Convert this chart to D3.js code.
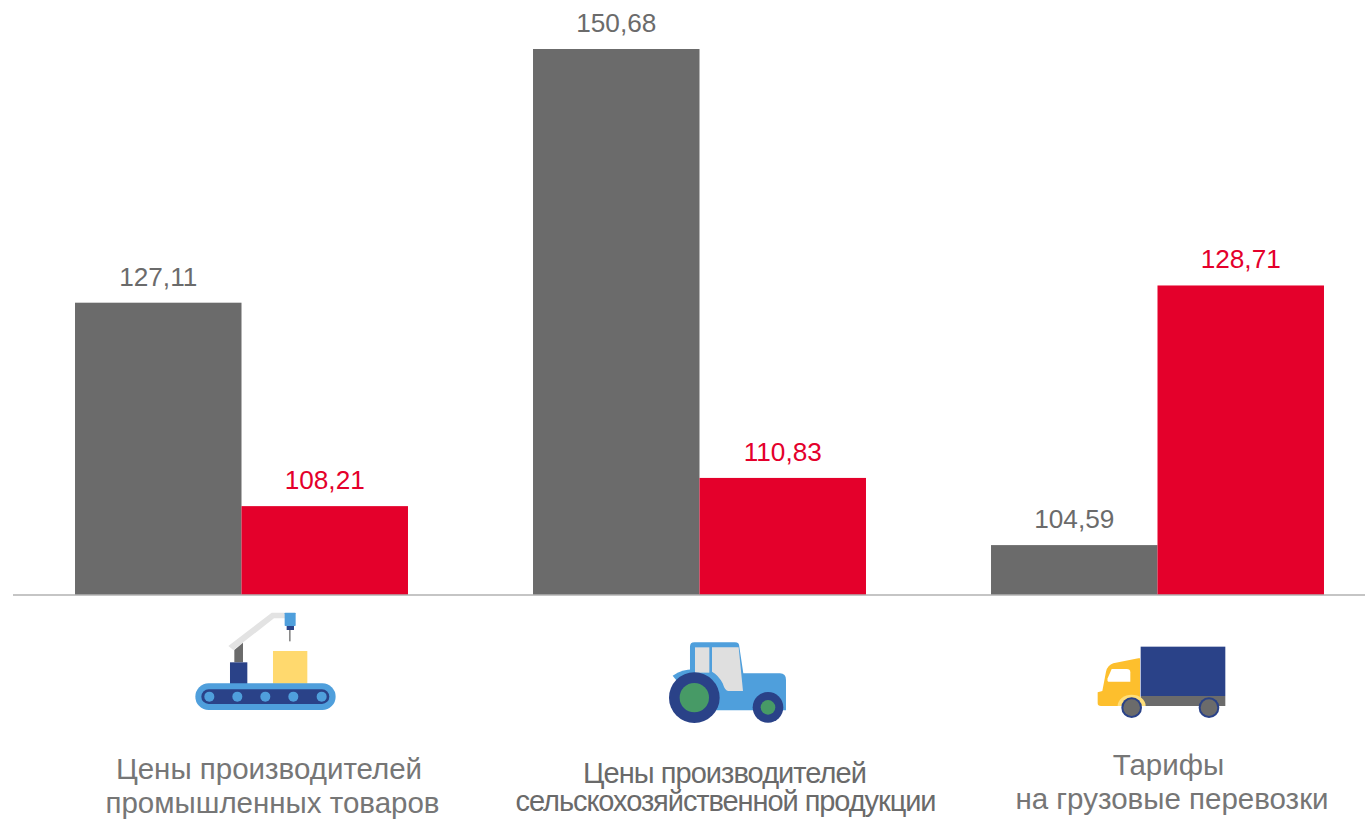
<!DOCTYPE html>
<html>
<head>
<meta charset="utf-8">
<script src="https://cdn.jsdelivr.net/npm/d3@7"></script>
<style>
  html, body { margin: 0; padding: 0; background: #fff; }
  text { font-family: "Liberation Sans", Arial, sans-serif; }
</style>
</head>
<body>
<div id="container"></div>
<script>
const categories = ['industry', 'agriculture', 'freight']
const seriesNames = ['first', 'second']
const firstValues = [127.11, 150.68, 104.59]
const secondValues = [108.21, 110.83, 128.71]
const seriesValues = [firstValues, secondValues]
const categoryLabels = [
  ['Цены производителей', 'промышленных товаров'],
  ['Цены производителей', 'сельскохозяйственной продукции'],
  ['Тарифы', 'на грузовые перевозки']
]

const width = 1365,
  height = 819,
  baseline = 594.5,
  grey = '#6b6b6b',
  red = '#e4002b',
  navy = '#2a4288',
  blue = '#4f9fdc'
const colors = [grey, red]

// label placement per category, offsets from band centre
const labelLayout = [
  { dx: [27.5, 31], y: [779, 813], size: 29.5, spacing: [0, 0], fill: '#767676' },
  { dx: [25, 26], y: [783, 811], size: 29, spacing: [-0.95, -1.07], fill: '#6a6a6a' },
  { dx: [11, 14.5], y: [775, 809], size: 29.5, spacing: [0, 0], fill: '#767676' }
]

const svg = d3.select('#container')
  .append('svg')
  .attr('width', width)
  .attr('height', height)
  .style('display', 'block')

const xScale = d3.scaleBand()
  .domain(categories)
  .range([12.5, 1386.5])
  .paddingInner(0.273)
  .paddingOuter(0.1365)
const xInner = d3.scaleBand()
  .domain(seriesNames)
  .range([0, xScale.bandwidth()])
const yScale = d3.scaleLinear()
  .domain([100, 150.68])
  .range([baseline, 49])

const fmt = v => v.toFixed(2).replace('.', ',')

const groups = svg.selectAll('g.group')
  .data(categories)
  .join('g')
  .attr('class', 'group')
  .attr('transform', d => 'translate(' + xScale(d) + ', 0)')

seriesNames.forEach((name, s) => {
  groups.append('rect')
    .attr('x', xInner(name))
    .attr('y', (d, i) => yScale(seriesValues[s][i]))
    .attr('width', xInner.bandwidth())
    .attr('height', (d, i) => baseline - yScale(seriesValues[s][i]))
    .attr('fill', colors[s])

  groups.append('text')
    .attr('x', xInner(name) + xInner.bandwidth() / 2)
    .attr('y', (d, i) => yScale(seriesValues[s][i]) - 17)
    .attr('text-anchor', 'middle')
    .attr('font-size', 26.2)
    .attr('fill', colors[s])
    .text((d, i) => fmt(seriesValues[s][i]))
})

// axis line
const axis = d3.axisBottom(xScale).tickSize(0).tickFormat('')
svg.append('g')
  .attr('transform', 'translate(0, ' + baseline + ')')
  .call(axis)
  .call(g => g.select('.domain')
    .attr('d', 'M13,0.5H' + width)
    .attr('stroke', '#8c8c8c')
    .attr('stroke-width', 1.2))

// category labels
categories.forEach((c, i) => {
  const cx = xScale(c) + xScale.bandwidth() / 2
  const l = labelLayout[i]
  categoryLabels[i].forEach((line, j) => {
    svg.append('text')
      .attr('x', cx + l.dx[j])
      .attr('y', l.y[j])
      .attr('text-anchor', 'middle')
      .attr('font-size', l.size)
      .attr('letter-spacing', l.spacing[j])
      .attr('fill', l.fill)
      .text(line)
  })
})

// icons, drawn at 3x and scaled down
function icon(x, y) {
  return svg.append('g').attr('transform', 'translate(' + x + ', ' + y + ') scale(0.3333)')
}
function rect(g, x, y, w, h, fill, rx) {
  return g.append('rect').attr('x', x).attr('y', y).attr('width', w).attr('height', h)
    .attr('fill', fill).attr('rx', rx || 0)
}
function circle(g, cx, cy, r, fill) {
  return g.append('circle').attr('cx', cx).attr('cy', cy).attr('r', r).attr('fill', fill)
}
function path(g, d, fill) {
  return g.append('path').attr('d', d).attr('fill', fill)
}

const factory = icon(170, 600)
path(factory, 'M175 138L305 38H345V55H312L190 150Z', '#e3e3e3')
path(factory, 'M193 150L219 128V187H193Z', grey)
rect(factory, 180, 187, 52, 65, navy)
rect(factory, 309, 153, 103, 98, '#ffd96e')
rect(factory, 357, 90, 5, 34, '#8a8a8a')
rect(factory, 350, 78, 22, 12, navy)
rect(factory, 344, 38, 33, 40, blue, 2)
rect(factory, 76, 250, 421, 80, blue, 40)
rect(factory, 94, 268, 384, 44, navy, 22)
;[118, 202, 286, 370, 455].forEach(cx => circle(factory, cx, 290, 15, blue))

const tractor = icon(650, 630)
path(tractor, 'M120 130V50Q120 37 133 37H255Q268 37 268 50L280 130H390Q408 130 408 150V241H170Z', blue)
path(tractor, 'M68 137Q100 116 135 118L190 150V200H120Z', blue)
rect(tractor, 135, 52, 43, 76, '#dfdfdf')
path(tractor, 'M186 52H266L279 183H235Q225 183 218 160Q205 135 186 125Z', '#dfdfdf')
circle(tractor, 133, 203, 76, navy)
circle(tractor, 133, 203, 44, '#479a66')
circle(tractor, 354, 232, 46, navy)
circle(tractor, 354, 232, 22, '#479a66')

const truck = icon(1085, 635)
rect(truck, 167, 35, 254, 148, navy)
rect(truck, 167, 183, 254, 30, grey)
path(truck, 'M160 70L85 85Q68 90 63 110L52 168L38 172V205Q38 213 48 213H165V70Z', '#fdbf2d')
path(truck, 'M80 102H125Q136 102 136 112V140H70Q66 140 68 130Z', '#fff')
path(truck, 'M98 213A42 34 0 0 1 182 213Z', '#ffdf7a')
;[140, 372].forEach(cx => {
  circle(truck, cx, 218, 31, navy)
  circle(truck, cx, 218, 25, grey)
})
</script>
</body>
</html>
